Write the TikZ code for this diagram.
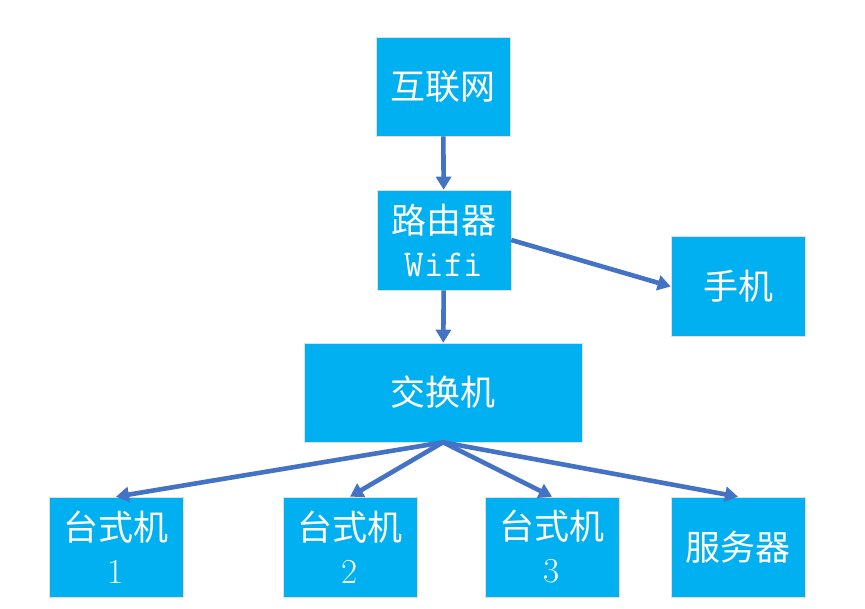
\documentclass[tikz,border=0pt]{standalone}
\usepackage{fontspec}
\usepackage{xcolor}
\usepackage{tikz}
\usetikzlibrary{arrows.meta,positioning}
\newfontfamily\cjk{Noto Sans CJK SC}
\definecolor{boxblue}{HTML}{00B0F0}
\definecolor{linkblue}{HTML}{4472C4}

\begin{document}
\begin{tikzpicture}[
  x=1pt, y=-1pt,
  box/.style={draw=gray!25, line width=0.6pt, fill=boxblue, text=white, align=center, minimum width=134pt, minimum height=100pt, inner sep=0pt, font=\fontsize{35}{43}\selectfont},
  wide/.style={box, minimum width=278pt, minimum height=99pt},
  arrow/.style={-{Triangle[length=13pt, width=15pt]}, line width=4.6pt, draw=linkblue}]
\useasboundingbox (0,0) rectangle (865,608);
\node[box, minimum height=99pt] (internet) at (443,86.5) {\cjk 互联网};
\node[box] (router) at (444,240) {\cjk 路由器\\\fontsize{38}{43}\selectfont\ttfamily Wifi};
\node[box] (phone) at (738,286.5) {\cjk 手机};
\node[wide] (switch) at (443,392.5) {\cjk 交换机};
\node[box] (pc1) at (116,547) {\cjk 台式机\\1};
\node[box] (pc2) at (350,547) {\cjk 台式机\\2};
\node[box] (pc3) at (552,547) {\cjk 台式机\\3};
\node[box] (server) at (738,547) {\cjk 服务器};
\draw[arrow] (internet) -- (router);
\draw[arrow] (router.east) -- (phone.west);
\draw[arrow] (router) -- (switch);
\draw[arrow] (switch.south) -- (pc1.north);
\draw[arrow] (switch.south) -- (pc2.north);
\draw[arrow] (switch.south) -- (pc3.north);
\draw[arrow] (switch.south) -- (server.north);
\end{tikzpicture}
\end{document}
